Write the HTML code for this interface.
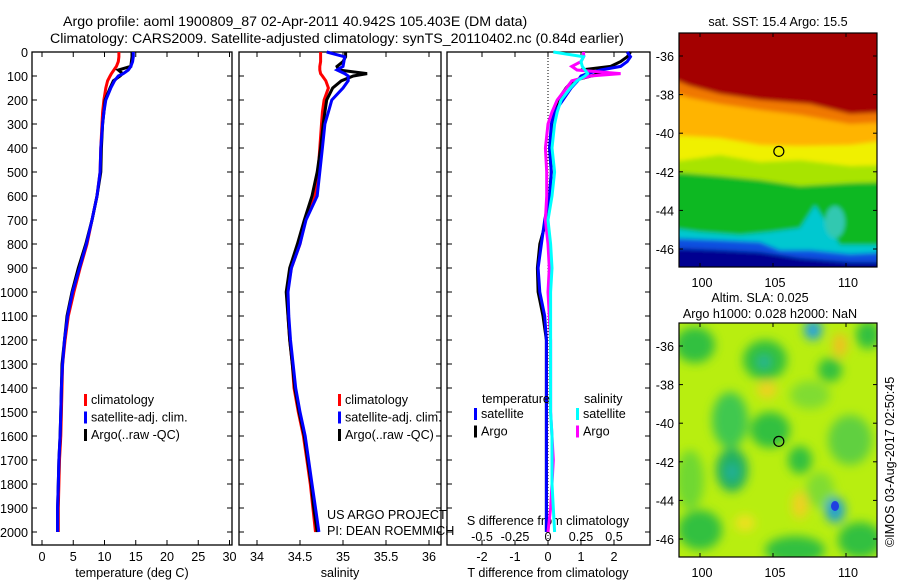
<!DOCTYPE html>
<html><head><meta charset="utf-8">
<style>
body{margin:0;background:#fff;}
svg{display:block;font-family:"Liberation Sans",sans-serif;}
text{font-size:12.6px;fill:#000;}
</style></head>
<body>
<svg id="fig" width="900" height="580" viewBox="0 0 900 580">
<defs>
<filter id="blur2" x="-50%" y="-50%" width="200%" height="200%"><feGaussianBlur stdDeviation="5"/></filter>
<filter id="blur1" x="-50%" y="-50%" width="200%" height="200%"><feGaussianBlur stdDeviation="2"/></filter>
<clipPath id="clipm1"><rect x="679" y="33" width="198" height="234"/></clipPath>
<clipPath id="clipm2"><rect x="679" y="323" width="198" height="234"/></clipPath>
</defs>
<text x="63" y="26" style="font-size:14.2px">Argo profile: aoml 1900809_87 02-Apr-2011 40.942S 105.403E (DM data)</text>
<text x="50" y="43" style="font-size:14.2px">Climatology: CARS2009. Satellite-adjusted climatology: synTS_20110402.nc (0.84d earlier)</text>
<g id="panels"></g>
<g id="maps"></g>
</svg>
<script>
// ---- data ----
const depths = [0,20,40,60,75,90,100,120,150,200,250,300,400,500,600,700,800,900,1000,1100,1200,1300,1400,1500,1600,1700,1800,1900,2000];
const tempClim = [12.3,12.3,12.2,11.9,11.5,11.1,10.9,10.5,10.2,9.9,9.7,9.6,9.4,9.3,8.8,8.0,7.2,6.1,5.1,4.2,3.7,3.3,3.2,3.1,3.0,2.8,2.7,2.6,2.6];
const tempSat  = [14.6,14.6,14.5,14.2,13.8,13.0,12.2,11.6,11.0,10.2,9.9,9.7,9.4,9.3,8.8,8.0,7.1,6.0,4.9,4.1,3.6,3.3,3.1,3.0,2.9,2.7,2.6,2.5,2.5];
const tempArgo = [14.4,14.4,14.3,14.2,12.2,12.9,12.5,11.4,10.9,10.1,9.9,9.7,9.5,9.4,8.8,8.0,7.0,5.8,4.8,4.0,3.6,3.2,3.1,3.0,2.9,2.7,2.6,2.5,2.5];
const salClim = [34.74,34.74,34.74,34.73,34.73,34.74,34.76,34.80,34.83,34.78,34.76,34.75,34.73,34.71,34.67,34.56,34.50,34.40,34.35,34.36,34.38,34.41,34.43,34.48,34.54,34.58,34.62,34.65,34.68];
const salSat  = [34.81,35.02,35.01,35.00,34.93,35.02,35.06,35.06,35.00,34.87,34.83,34.79,34.76,34.73,34.70,34.57,34.50,34.40,34.36,34.37,34.39,34.42,34.45,34.50,34.56,34.60,34.64,34.68,34.72];
const salArgo = [35.03,35.03,35.00,34.93,34.95,35.28,35.12,34.98,34.88,34.81,34.79,34.77,34.74,34.70,34.64,34.55,34.47,34.38,34.34,34.36,34.38,34.41,34.44,34.49,34.55,34.59,34.63,34.66,34.70];
const tDiffSat  = [2.4,2.5,2.4,2.2,1.6,1.2,1.0,0.9,0.7,0.45,0.2,0.1,0.05,0.1,0.05,-0.1,-0.2,-0.3,-0.25,-0.1,-0.05,-0.05,-0.05,-0.05,-0.05,-0.05,-0.05,-0.05,-0.05];
const tDiffArgo = [2.5,2.4,2.2,1.9,1.0,1.7,1.3,0.75,0.55,0.3,0.2,0.15,0.05,0.1,0.05,-0.05,-0.25,-0.32,-0.3,-0.15,-0.05,-0.05,-0.05,-0.05,-0.05,-0.05,-0.05,-0.05,-0.05];
const sDiffSat  = [0.04,0.27,0.25,0.26,0.28,0.30,0.28,0.22,0.17,0.10,0.07,0.05,0.03,0.05,0.03,0.0,0.02,0.03,0.02,0.02,0.02,0.02,0.02,0.02,0.03,0.03,0.03,0.04,0.05];
const sDiffArgo = [0.27,0.27,0.25,0.18,0.22,0.55,0.32,0.18,0.14,0.07,0.03,0.0,-0.02,-0.01,-0.01,-0.02,0.0,0.01,0.0,0.01,0.02,0.02,0.02,0.02,0.03,0.04,0.03,0.02,0.0];
const depthTicks = [0,100,200,300,400,500,600,700,800,900,1000,1100,1200,1300,1400,1500,1600,1700,1800,1900,2000];
const tempTicks = [0,5,10,15,20,25,30];
const salTicks = [34,34.5,35,35.5,36];
const tDiffTicks = [-2,-1,0,1,2];
const sDiffTicks = [-0.5,-0.25,0,0.25,0.5];
const lonTicks = [100,105,110];
const latTicks = [-36,-38,-40,-42,-44,-46];

const NS="http://www.w3.org/2000/svg";
function mk(tag,attrs,parent){const e=document.createElementNS(NS,tag);for(const k in attrs)e.setAttribute(k,attrs[k]);parent.appendChild(e);return e;}
const P=document.getElementById('panels');
const yD = d => 52 + d*0.24;
const xT = v => 42 + v*6.25;
const xS = v => 257 + (v-34)*86;
const xTd = v => 548 + v*33;
const xSd = v => 548 + v*132;
const pTop=52, pBot=545;

function frame(x0,x1,name){
  const r=mk('rect',{x:x0,y:pTop,width:x1-x0,height:pBot-pTop,fill:'none',stroke:'#000','stroke-width':1.3},P);
  
  
}
function series(xf,vals,color,name){
  const pts=vals.map((v,i)=>xf(v).toFixed(1)+','+yD(depths[i]).toFixed(1)).join(' ');
  const l=mk('polyline',{points:pts,fill:'none',stroke:color,'stroke-width':3,'stroke-linejoin':'miter'},P);
  
  
}
function xticks(xf,ticks,labels,ylab,name){
  ticks.forEach((t,i)=>{
    const x=xf(t);
    mk('line',{x1:x,x2:x,y1:pTop,y2:pTop+5,stroke:'#000'},P);
    mk('line',{x1:x,x2:x,y1:pBot,y2:pBot-5,stroke:'#000'},P);
    if(labels){const tx=mk('text',{x:x,y:ylab,'text-anchor':'middle'},P);tx.textContent=labels[i];
      
      }
  });
}
function yticks(x0,x1){
  depthTicks.forEach(d=>{const y=yD(d);
    mk('line',{x1:x0,x2:x0+5,y1:y,y2:y,stroke:'#000'},P);
    mk('line',{x1:x1,x2:x1-5,y1:y,y2:y,stroke:'#000'},P);});
}
function txt(x,y,s,name,extra){const t=mk('text',Object.assign({x:x,y:y},extra||{}),P);t.textContent=s;
  
  return t;}

// Panel 1
frame(32,232,'temperature-panel');
yticks(32,232);
depthTicks.forEach(d=>{txt(28,yD(d)+5,String(d),'depth-tick-label',{'text-anchor':'end'});});
xticks(xT,tempTicks,tempTicks.map(String),561,'temperature-axis');
txt(132,577,'temperature (deg C)','x-axis-title-temperature',{'text-anchor':'middle'});
series(xT,tempClim,'#f00','temp-climatology-line');
series(xT,tempArgo,'#000','temp-argo-line');
series(xT,tempSat,'#00f','temp-satellite-line');

// Panel 2
frame(239,441,'salinity-panel');
yticks(239,441);
xticks(xS,salTicks,['34','34.5','35','35.5','36'],561,'salinity-axis');
txt(340,577,'salinity','x-axis-title-salinity',{'text-anchor':'middle'});
series(xS,salClim,'#f00','sal-climatology-line');
series(xS,salArgo,'#000','sal-argo-line');
series(xS,salSat,'#00f','sal-satellite-line');

// Panel 3
frame(447,650,'difference-panel');
yticks(447,650);
mk('line',{x1:548,x2:548,y1:pTop,y2:pBot,stroke:'#000','stroke-dasharray':'1,2'},P);
xticks(xTd,tDiffTicks,tDiffTicks.map(String),561,'t-diff-axis');
sDiffTicks.forEach((t,i)=>txt(xSd(t),541,['-0.5','-0.25','0','0.25','0.5'][i],'s-diff-tick-label',{'text-anchor':'middle'}));
txt(548,525,'S difference from climatology','s-diff-axis-title',{'text-anchor':'middle'});
txt(548,577,'T difference from climatology','t-diff-axis-title',{'text-anchor':'middle'});
series(xTd,tDiffArgo,'#000','tdiff-argo-line');
series(xTd,tDiffSat,'#00f','tdiff-satellite-line');
series(xSd,sDiffArgo,'#f0f','sdiff-argo-line');
series(xSd,sDiffSat,'#0ff','sdiff-satellite-line');

// legends
function legend(x,y,items,name){
  items.forEach((it,i)=>{const yy=y+i*17.5;
    mk('rect',{x:x,y:yy-10,width:3,height:12,fill:it[1]},P);
    txt(x+7,yy,it[0],name+'-entry');});
}
legend(84,404,[['climatology','#f00'],['satellite-adj. clim.','#00f'],['Argo(..raw -QC)','#000']],'temp-legend');
legend(338,404,[['climatology','#f00'],['satellite-adj. clim.','#00f'],['Argo(..raw -QC)','#000']],'sal-legend');
txt(482,403,'temperature','legend-temperature-heading');
txt(584,403,'salinity','legend-salinity-heading');
legend(474,418,[['satellite','#00f'],['Argo','#000']],'tdiff-legend');
legend(576,418,[['satellite','#0ff'],['Argo','#f0f']],'sdiff-legend');
txt(327,519,'US ARGO PROJECT','project-label');
txt(327,535,'PI: DEAN ROEMMICH','pi-label');

// ---- maps ----
const M=document.getElementById('maps');
const xL = lon => 700 + (lon-100)*14.6;
function mapAxes(y0,yTop,name){
  const yLat = lat => yTop + (-36-lat)*19.3;
  mk('rect',{x:679,y:y0,width:198,height:234,fill:'none',stroke:'#000','stroke-width':1.2},M);
  lonTicks.forEach(l=>{const x=xL(l);
    mk('line',{x1:x,x2:x,y1:y0,y2:y0+4,stroke:'#000'},M);
    mk('line',{x1:x,x2:x,y1:y0+234,y2:y0+230,stroke:'#000'},M);
    const t=mk('text',{x:x+2,y:y0+254,'text-anchor':'middle'},M);t.textContent=String(l);
    
    });
  latTicks.forEach(l=>{const y=yLat(l);
    mk('line',{x1:679,x2:683,y1:y,y2:y,stroke:'#000'},M);
    mk('line',{x1:877,x2:873,y1:y,y2:y,stroke:'#000'},M);
    const t=mk('text',{x:674,y:y+5,'text-anchor':'end'},M);t.textContent=String(l);
    
    });
  const c=mk('circle',{cx:xL(105.4),cy:yLat(-40.94),r:5,fill:'none',stroke:'#000','stroke-width':1.2},M);
  
  
}
// map 1 SST
let g1=mk('g',{'clip-path':'url(#clipm1)'},M);


let gb=mk('g',{filter:'url(#blur1)'},g1);
mk('rect',{x:670,y:20,width:220,height:260,fill:'#000090'},gb);
mk('path',{d:'M670 20 H890 V262 L850 262 L800 258 L760 252 L720 250 L670 248 Z',fill:'#0a50e0'},gb);
mk('path',{d:'M670 20 H890 V252 L850 254 L810 250 L780 250 L760 242 L720 240 L670 238 Z',fill:'#00c8d0'},gb);
mk('path',{d:'M670 20 H890 V245 L840 245 L828 225 L815 205 L800 228 L770 232 L740 235 L700 232 L670 228 Z',fill:'#10b820'},gb);
mk('path',{d:'M670 20 H890 V182 L850 183 L800 186 L760 180 L720 176 L670 172 Z',fill:'#a8e400'},gb);
mk('path',{d:'M670 20 H890 V165 L850 166 L800 160 L760 162 L720 155 L670 162 Z',fill:'#f0f000'},gb);
mk('path',{d:'M670 20 H890 V140 L850 145 L800 146 L760 145 L720 138 L670 135 Z',fill:'#ffb400'},gb);
mk('path',{d:'M670 20 H890 V122 L850 124 L800 115 L760 110 L720 104 L690 98 L670 92 Z',fill:'#f07800'},gb);
mk('path',{d:'M670 20 H890 V112 L850 114 L810 104 L760 100 L720 94 L690 86 L670 78 Z',fill:'#a40000'},gb);
mk('ellipse',{cx:835,cy:222,rx:10,ry:16,fill:'#30c8b0'},gb);
mapAxes(33,56,'sst-map');
const mt1=mk('text',{x:778,y:26,'text-anchor':'middle'},M);mt1.textContent='sat. SST: 15.4 Argo: 15.5';



// map 2 SLA
let g2=mk('g',{'clip-path':'url(#clipm2)'},M);


mk('rect',{x:679,y:323,width:198,height:234,fill:'#b8ee10'},g2);
let gs=mk('g',{filter:'url(#blur2)'},g2);
const blobs=[[695,345,20,18,'#30c040'],[765,360,22,20,'#30c040'],[830,370,12,12,'#30c040'],[868,335,12,14,'#30c040'],[730,420,18,28,'#40c850'],[770,430,20,18,'#30c040'],[800,460,12,14,'#30c040'],[850,440,22,25,'#60d040'],[732,470,16,22,'#20b060'],[700,530,22,20,'#30c040'],[795,550,30,14,'#30c040'],[860,540,22,18,'#30c040'],[690,480,14,30,'#70d830'],[820,490,14,18,'#80dc30'],[810,395,20,14,'#80dc30']];
blobs.forEach(b=>mk('ellipse',{cx:b[0],cy:b[1],rx:b[2],ry:b[3],fill:b[4]},gs));
[[813,330,9,10,'#20a0e0'],[835,510,10,13,'#20a0d0'],[732,472,6,8,'#20b0a0'],[764,362,6,6,'#20b0a0']].forEach(b=>mk('ellipse',{cx:b[0],cy:b[1],rx:b[2],ry:b[3],fill:b[4]},gs));
[[840,345,7,12,'#f0c020'],[767,390,10,8,'#f0d020'],[800,505,8,14,'#f0d020'],[745,523,10,8,'#f0e020']].forEach(b=>mk('ellipse',{cx:b[0],cy:b[1],rx:b[2],ry:b[3],fill:b[4]},gs));
mk('ellipse',{cx:835,cy:506,rx:4,ry:5,fill:'#2040e0'},g2);
mapAxes(323,346,'sla-map');
const mt2=mk('text',{x:760,y:302,'text-anchor':'middle'},M);mt2.textContent='Altim. SLA: 0.025';


const mt3=mk('text',{x:770,y:318,'text-anchor':'middle'},M);mt3.textContent='Argo h1000: 0.028 h2000: NaN';


const ts=mk('text',{transform:'translate(894,547) rotate(-90)'},M);ts.textContent='©IMOS 03-Aug-2017 02:50:45';


</script>
</body></html>
